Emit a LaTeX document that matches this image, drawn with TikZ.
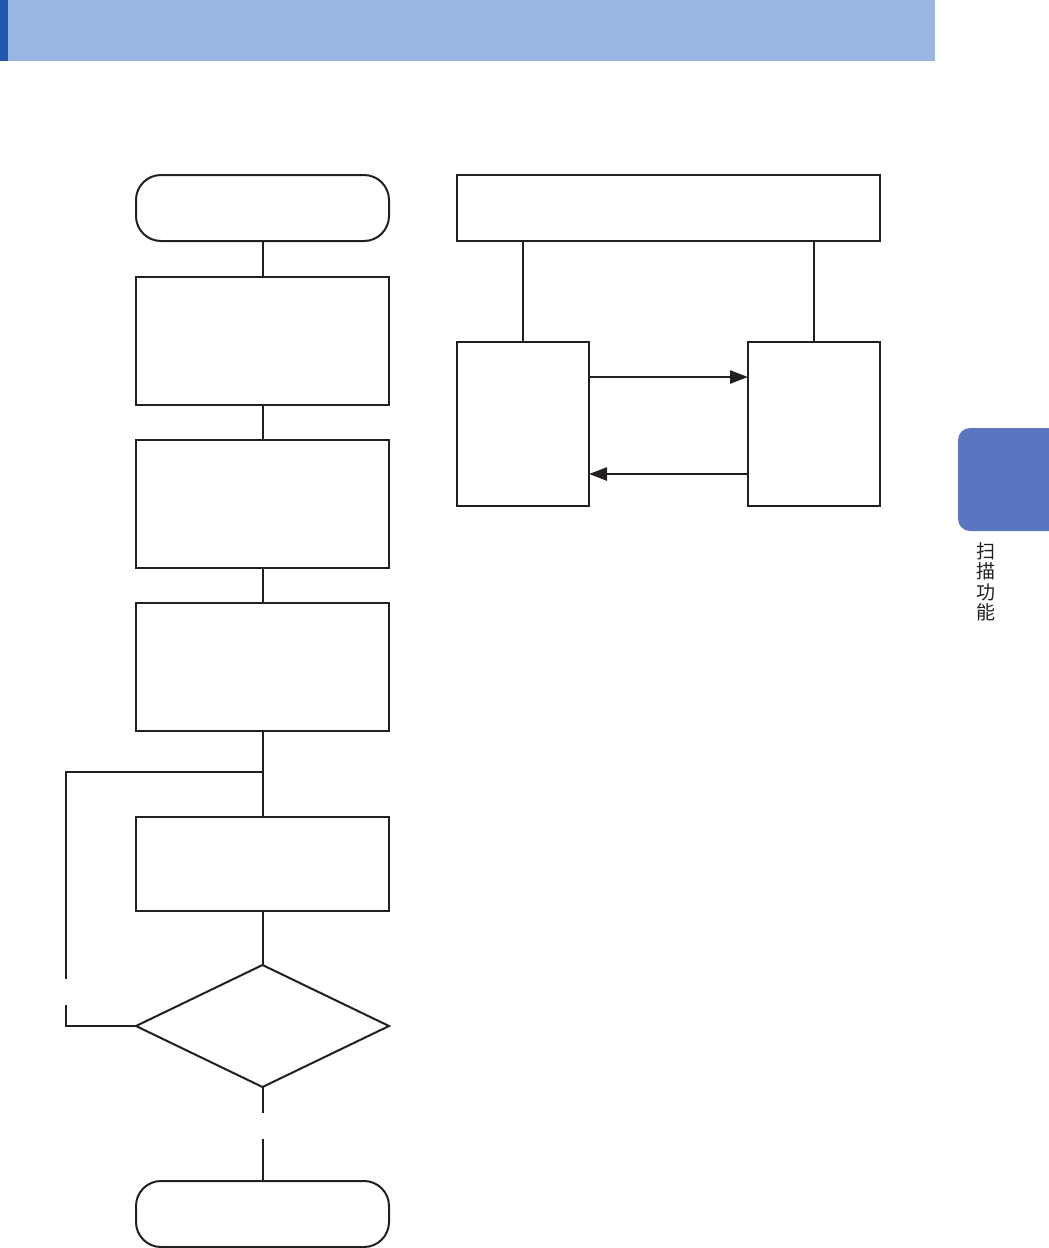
\documentclass[tikz,border=0pt]{standalone}
\usepackage{fontspec}
\newfontfamily\cjk{Noto Sans CJK SC}
\usetikzlibrary{shapes.geometric,arrows.meta}
\definecolor{ink}{HTML}{231F20}
\definecolor{bandblue}{HTML}{9AB7E3}
\definecolor{stripblue}{HTML}{2257B0}
\definecolor{tabblue}{HTML}{5B76C1}
\tikzset{
  box/.style={draw=ink, line width=2pt, minimum width=253pt, inner sep=0pt, outer sep=0pt},
  term/.style={box, minimum height=66pt, rounded corners=25pt},
  proc/.style={box, minimum height=128pt},
  diam/.style={draw=ink, line width=2pt, diamond, minimum width=253pt, minimum height=122pt, inner sep=0pt, outer sep=0pt},
  sbox/.style={draw=ink, line width=2pt, minimum width=132pt, minimum height=164pt, inner sep=0pt, outer sep=0pt},
  conn/.style={draw=ink, line width=2pt},
  arr/.style={draw=ink, line width=2.6pt, -{Triangle[length=18pt,width=13pt]}}
}
\begin{document}
\begin{tikzpicture}[x=1pt,y=-1pt]
\useasboundingbox (0,0) rectangle (1049,1248);
% header band
\fill[bandblue] (0,0) rectangle (935,61);
\fill[stripblue] (0,0) rectangle (8,61);
% side tab
\fill[tabblue, rounded corners=12pt] (1060,428) -- (958,428) -- (958,531) -- (1060,531);
\fill[tabblue] (1040,428) rectangle (1049,531);
\node[text=ink, align=center, inner sep=0pt, font=\cjk\fontsize{19}{20.5}\selectfont] (tabtext) at (985.5,582) {扫\\描\\功\\能};
% left flowchart
\node[term] (start) at (262.5,208) {};
\node[proc] (b1) at (262.5,341) {};
\node[proc] (b2) at (262.5,504) {};
\node[proc] (b3) at (262.5,667) {};
\node[box, minimum height=94pt] (b4) at (262.5,864) {};
\node[diam] (dia) at (262.5,1026) {};
\node[term] (stop) at (262.5,1214) {};
\coordinate (j) at (262.5,772);
\coordinate (lt) at (66,772);
\coordinate (lgapa) at (66,979);
\coordinate (lgapb) at (66,1005);
\coordinate (lb) at (66,1026);
\coordinate (bgapa) at (262.5,1113);
\coordinate (bgapb) at (262.5,1139);
\draw[conn] (start) -- (b1);
\draw[conn] (b1) -- (b2);
\draw[conn] (b2) -- (b3);
\draw[conn] (b3) -- (b4);
\draw[conn] (b4) -- (dia);
\draw[conn] (j) -- (lt) -- (lgapa);
\draw[conn] (lgapb) -- (lb) -- (dia.west);
\draw[conn] (dia.south) -- (bgapa);
\draw[conn] (bgapb) -- (stop.north);
% right diagram
\node[box, minimum width=423pt, minimum height=66pt] (top) at (668.5,208) {};
\node[sbox] (L) at (523,424) {};
\node[sbox] (R) at (814,424) {};
\draw[conn] (L.north |- top.south) -- (L.north);
\draw[conn] (R.north |- top.south) -- (R.north);
\coordinate (a1) at (0,377);
\coordinate (a2) at (0,474);
\draw[arr] (L.east |- a1) -- (R.west |- a1);
\draw[arr] (R.west |- a2) -- (L.east |- a2);
\end{tikzpicture}
\end{document}
